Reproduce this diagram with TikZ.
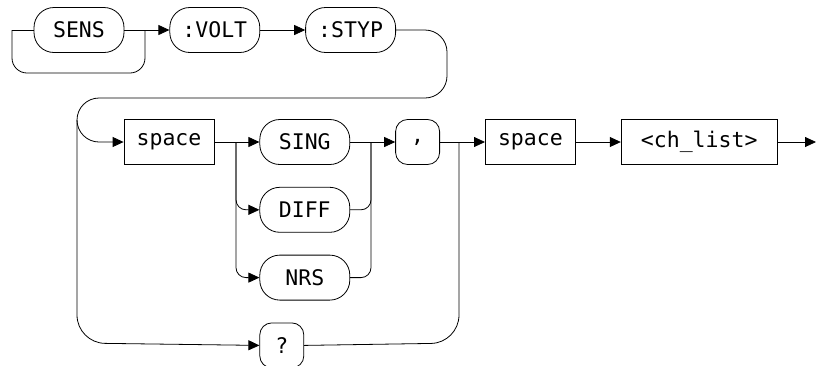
\documentclass[tikz,border=0pt]{standalone}
\usepackage{fontspec}
\setmonofont{DejaVu Sans Mono}
\usetikzlibrary{arrows.meta, positioning}
\tikzset{
    every node/.style={font=\ttfamily\fontsize{21.5}{25}\selectfont},
    % Keyword capsule style
    capsule/.style={
        rectangle,
        draw=black,
        rounded corners=20pt,
        minimum width=90pt,
        minimum height=45pt,
        inner sep=0pt,
        line width=0.8pt
    },
    % Small capsule style
    smallcap/.style={
        capsule,
        rounded corners=12pt,
        minimum width=44pt
    },
    % Parameter box style
    parambox/.style={
        rectangle,
        draw=black,
        minimum width=90pt,
        minimum height=45pt,
        inner sep=0pt,
        line width=0.8pt
    },
    % Plain line style
    rail/.style={
        line width=0.8pt
    },
    % Arrow style
    arrow/.style={
        rail,
        -{Triangle[length=11pt,width=10pt]}
    }
}
\begin{document}
\begin{tikzpicture}[x=1pt, y=-1pt, node distance=22pt and 45pt]
        \useasboundingbox (0,0) rectangle (816,365);

        % First row
        \node (sens) [capsule] at (79,30) {SENS};
        \node (volt) [capsule, right=of sens] {:VOLT};
        \node (styp) [capsule, right=of volt] {:STYP};

        % Second row
        \node (space1) [parambox] at (169,142) {space};
        \node (sing) [capsule, right=of space1] {SING};
        \node (diff) [capsule, below=of sing] {DIFF};
        \node (nrs) [capsule, below=of diff] {NRS};
        \node (comma) [smallcap, right=of sing] {,};
        \node (space2) [parambox, right=of comma] {space};
        \node (chlist) [parambox, minimum width=156pt, right=of space2] {<ch\_list>};
        \node (query) [smallcap, below=of nrs.south west, anchor=north west] {?};

        % Junctions
        \coordinate (start) at (12,30);
        \coordinate (j1) at (145,30);
        \coordinate (j2) at (236,142);
        \coordinate (j3) at (371,142);
        \coordinate (j4) at (459,142);
        \coordinate (finish) at (816,142);

        % First row connectors
        \draw [rail] (start) -- (sens.west);
        \draw [rail, rounded corners=15pt] (start) -- (12,73) -- (145,73) -- (j1);
        \draw [arrow] (sens.east) -- (volt.west);
        \draw [arrow] (volt.east) -- (styp.west);

        % Wrap to second row
        \draw [arrow, rounded corners=22pt] (styp.east) -- (447,30) -- (447,98) -- (77,98) -- (77,142) -- (space1.west);
        \draw [arrow, rounded corners=28pt] (77,120) -- (77,343) -- (query.west);
        \draw [rail, rounded corners=28pt] (query.east) -- (459,343) -- (j4);

        % Choice branches
        \draw [arrow] (space1.east) -- (sing.west);
        \draw [arrow, rounded corners=10pt] (j2) -- (j2 |- diff) -- (diff.west);
        \draw [arrow, rounded corners=10pt] (j2) -- (j2 |- nrs) -- (nrs.west);
        \draw [rail, rounded corners=10pt] (diff.east) -- (j3 |- diff) -- (j3);
        \draw [rail, rounded corners=10pt] (nrs.east) -- (j3 |- nrs) -- (j3);
        \draw [arrow] (sing.east) -- (comma.west);

        % Rest of second row
        \draw [arrow] (comma.east) -- (space2.west);
        \draw [arrow] (space2.east) -- (chlist.west);
        \draw [arrow] (chlist.east) -- (finish);
\end{tikzpicture}
\end{document}
